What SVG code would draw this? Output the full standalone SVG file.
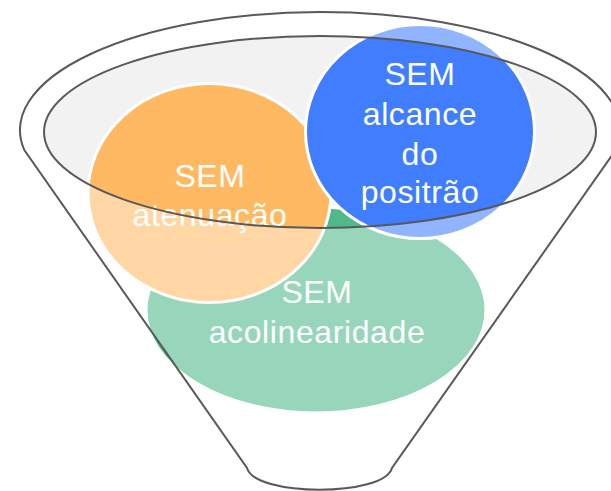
<svg xmlns="http://www.w3.org/2000/svg" width="611" height="491" viewBox="0 0 611 491">
  <style>
    .lbl { font-family: "Liberation Sans", Arial, sans-serif; font-size: 32px; letter-spacing: 0.6px; fill: #ffffff; text-anchor: middle; }
    .bubble { stroke: #ffffff; stroke-width: 3; }
    .outline { fill: none; stroke: #595959; stroke-width: 2; }
  </style>
  <rect width="611" height="491" fill="#ffffff"/>
  <g id="funnel-opening">
    <ellipse cx="320" cy="132" rx="276" ry="96" fill="#f2f2f2"/>
  </g>
  <g id="node-acolinearidade">
    <ellipse class="bubble" cx="316" cy="310" rx="170" ry="103" fill="#4fb98b"/>
    <text class="lbl" x="317" y="303">SEM</text>
    <text class="lbl" x="317" y="343">acolinearidade</text>
  </g>
  <g id="node-atenuacao">
    <ellipse class="bubble" cx="209.5" cy="193" rx="121.5" ry="109.5" fill="#ffb962"/>
    <text class="lbl" x="210" y="187">SEM</text>
    <text class="lbl" x="210" y="226">atenuação</text>
  </g>
  <g id="node-alcance">
    <ellipse class="bubble" cx="420" cy="131.5" rx="114.5" ry="107" fill="#407eff"/>
    <text class="lbl" x="420" y="85">SEM</text>
    <text class="lbl" x="420" y="125">alcance</text>
    <text class="lbl" x="420" y="165">do</text>
    <text class="lbl" x="420" y="203">positrão</text>
  </g>
  <g id="funnel">
    <path d="M24.3,150 A300,118 0 1 1 615.7,150 L392,468 C384,497 255,497 247,468 Z M44,132 A276,96 0 1 0 596,132 A276,96 0 1 0 44,132 Z" fill="#ffffff" fill-opacity="0.42" fill-rule="evenodd"/>
    <path class="outline" d="M24.3,150 A300,118 0 1 1 615.7,150 L392,468 C384,497 255,497 247,468 Z"/>
    <ellipse class="outline" cx="320" cy="132" rx="276" ry="96"/>
  </g>
  <g id="connectors"></g>
</svg>
